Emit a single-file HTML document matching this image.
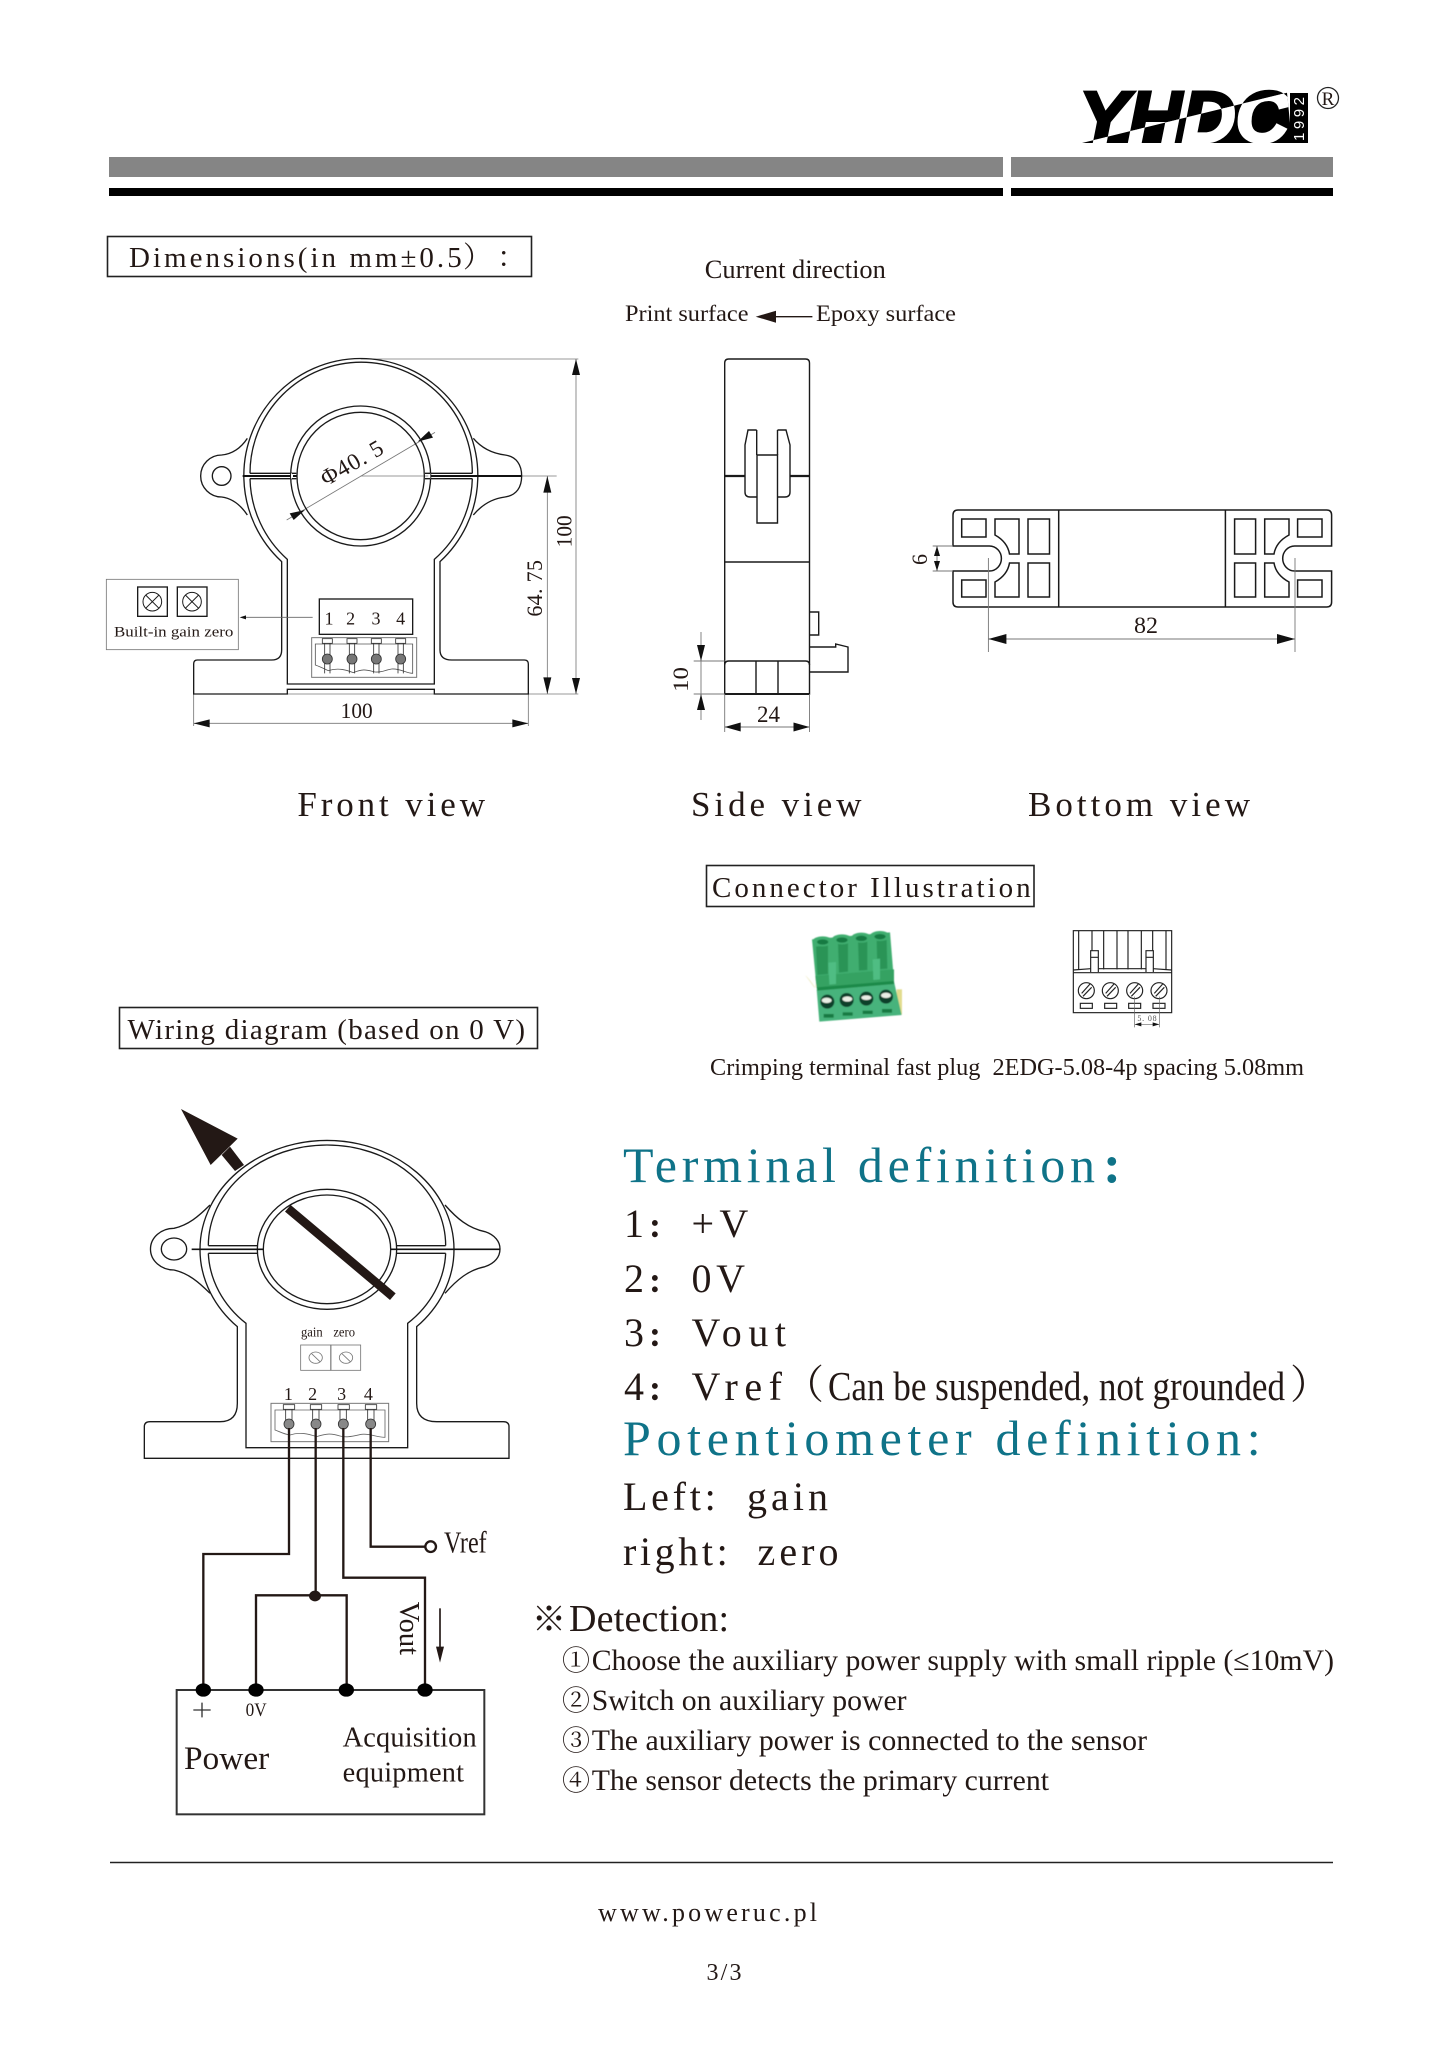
<!DOCTYPE html>
<html><head><meta charset="utf-8"><style>
html,body{margin:0;padding:0;background:#fff}
svg{display:block}
text{font-family:"Liberation Serif","Noto Serif CJK SC",serif;fill:#231815}
.l{fill:none;stroke:#1a1a1a;stroke-width:4}
.t{fill:none;stroke:#1a1a1a;stroke-width:3}
.g{fill:none;stroke:#777;stroke-width:2.5}
.a{fill:#111;stroke:none}
.teal{fill:#0f7388}
</style></head><body>
<svg width="1447" height="2048" viewBox="0 0 1447 2048" xmlns="http://www.w3.org/2000/svg">
<rect width="1447" height="2048" fill="#fff"/>
<!-- header -->
<rect x="109" y="157" width="894" height="20" fill="#858585"/>
<rect x="1011" y="157" width="322" height="20" fill="#858585"/>
<rect x="109" y="188" width="894" height="8" fill="#000"/>
<rect x="1011" y="188" width="322" height="8" fill="#000"/>
<!-- logo -->
<defs>
<clipPath id="up"><polygon points="1070,88 1292,88 1287,92.7 1082,143 1070,143"/></clipPath>
<clipPath id="dn"><polygon points="1082,143 1287,92.7 1292,143"/></clipPath>
</defs>
<g clip-path="url(#up)"><text x="1079" y="142" font-size="72" textLength="210" lengthAdjust="spacingAndGlyphs" style="font-family:'Liberation Sans',sans-serif;font-weight:bold;font-style:italic;fill:#000;stroke:#000;stroke-width:3">YHDC</text></g>
<polygon points="1082,143 1287,92.7 1292,143" fill="#000"/>
<g clip-path="url(#dn)"><text x="1079" y="142" font-size="72" textLength="210" lengthAdjust="spacingAndGlyphs" style="font-family:'Liberation Sans',sans-serif;font-weight:bold;font-style:italic;fill:#fff;stroke:#fff;stroke-width:3">YHDC</text></g>
<rect x="1290" y="93" width="18" height="50" fill="#000"/>
<text transform="translate(1304,141) rotate(-90)" font-size="15" textLength="44" style="font-family:'Liberation Sans',sans-serif;fill:#fff">1992</text>
<circle cx="1328" cy="98" r="10.5" fill="none" stroke="#222" stroke-width="1.3"/>
<text x="1328" y="105" font-size="19" text-anchor="middle">R</text>

<!-- title boxes -->
<rect x="107.5" y="236.5" width="424" height="40" fill="none" stroke="#222" stroke-width="1.6"/>
<text x="129" y="267" font-size="29" textLength="332.7" lengthAdjust="spacing">Dimensions(in mm±0.5</text>
<text x="463" y="267" font-size="29">）</text>
<text x="497" y="267" font-size="29">：</text>
<text x="704.8" y="278" font-size="26" textLength="181" lengthAdjust="spacingAndGlyphs">Current direction</text>
<text x="625" y="321" font-size="23" textLength="123.5" lengthAdjust="spacingAndGlyphs">Print surface</text>
<text x="816" y="321" font-size="23" textLength="140" lengthAdjust="spacingAndGlyphs">Epoxy surface</text>
<polygon points="755.7,316.7 776,310.7 776,322.7" fill="#231815"/>
<line x1="774" y1="316.7" x2="812.4" y2="316.7" stroke="#231815" stroke-width="1.4"/>

<!-- FRONT VIEW -->
<g transform="translate(90,340) scale(.33333)">
<g class="g">
<line x1="812" y1="57" x2="1465" y2="57"/>
<line x1="311" y1="1062" x2="1465" y2="1062"/>
<line x1="1458" y1="57" x2="1458" y2="1062"/>
<line x1="1372" y1="408" x2="1372" y2="1062"/>
<line x1="812" y1="408" x2="1400" y2="408"/>
<line x1="311" y1="1062" x2="311" y2="1158"/>
<line x1="1315" y1="1062" x2="1315" y2="1158"/>
<line x1="311" y1="1150" x2="1315" y2="1150"/>
<line x1="590" y1="540" x2="1035" y2="277"/>
</g>
<polygon class="a" points="1458,57 1446,105 1470,105"/>
<polygon class="a" points="1458,1062 1446,1014 1470,1014"/>
<polygon class="a" points="1372,408 1360,458 1384,458"/>
<polygon class="a" points="1372,1062 1360,1012 1384,1012"/>
<polygon class="a" points="311,1150 359,1138 359,1162"/>
<polygon class="a" points="1315,1150 1267,1138 1267,1162"/>
<polygon class="a" points="645,510 611,540 599,520"/>
<polygon class="a" points="983,305 1017,273 1029,293"/>
<!-- body -->
<path class="l" d="M575 665A351 351 0 1 1 1050 665V930Q1050 960 1085 960H1303Q1315 960 1315 972V1062H1033V1048H592V1062H311V972Q311 960 322 960H545Q575 960 575 930Z"/>
<path class="l" d="M480 400A333 333 0 0 1 1147 400M480 416A333 333 0 0 0 592 658V1032H1033V658A333 333 0 0 0 1147 416"/>
<path class="l" d="M480 400H606M480 416H606M1020 400H1147M1020 416H1147"/>
<circle class="l" cx="812" cy="408" r="210"/>
<circle class="l" cx="812" cy="408" r="191"/>
<path d="M458 408H620M1020 408H1295" stroke="#111" stroke-width="6" fill="none"/>
<path d="M606 400V416M1018 400V416" stroke="#fff" stroke-width="6" fill="none"/>
<path class="l" d="M606 400H619M606 416H619M1005 400H1020M1005 416H1020"/>
<!-- ears -->
<path class="l" d="M472 295C452 325 425 342 395 345A63 63 0 1 0 395 471C425 475 452 495 472 525"/>
<circle class="l" cx="395" cy="408" r="28"/>
<path class="l" d="M1150 295C1175 325 1205 340 1245 345C1280 350 1295 375 1295 408C1295 441 1280 466 1245 471C1205 476 1175 495 1150 525"/>
<!-- built-in -->
<rect class="g" x="49" y="718" width="396" height="211"/>
<rect class="l" x="143" y="741" width="89" height="88"/>
<rect class="l" x="262" y="741" width="89" height="88"/>
<circle class="t" cx="187" cy="785" r="28"/><path class="t" d="M167 765L207 805M207 765L167 805"/>
<circle class="t" cx="306" cy="785" r="28"/><path class="t" d="M286 765L326 805M326 765L286 805"/>
<text x="72" y="890" font-size="45" textLength="358" lengthAdjust="spacingAndGlyphs">Built-in gain zero</text>
<line x1="668" y1="832" x2="455" y2="832" stroke="#666" stroke-width="2.5"/>
<polygon class="a" points="449,832 468,826 468,838"/>
<rect class="l" x="688" y="777" width="280" height="106"/>
<text x="717" y="853" font-size="54" text-anchor="middle">1</text>
<text x="782" y="853" font-size="54" text-anchor="middle">2</text>
<text x="858" y="853" font-size="54" text-anchor="middle">3</text>
<text x="932" y="853" font-size="54" text-anchor="middle">4</text>
<rect x="665" y="893" width="315" height="119" fill="none" stroke="#777" stroke-width="3"/>
<path d="M676 912H968V1000C950 1000 930 985 905 987C885 990 875 998 855 996C830 990 820 985 790 998C770 990 745 982 715 992C700 985 690 980 676 975Z" fill="none" stroke="#555" stroke-width="2.5"/>
<g fill="#777" stroke="#333" stroke-width="2.5">
<rect x="697" y="896" width="30" height="14" fill="#fff"/><rect x="771" y="896" width="30" height="14" fill="#fff"/><rect x="844" y="896" width="30" height="14" fill="#fff"/><rect x="917" y="896" width="30" height="14" fill="#fff"/>
<path fill="none" d="M704 910V1000M720 910V1000M778 910V1000M794 910V1000M851 910V1000M867 910V1000M924 910V1000M940 910V1000"/>
<circle cx="712" cy="957" r="15"/><circle cx="786" cy="957" r="15"/><circle cx="859" cy="957" r="15"/><circle cx="932" cy="957" r="15"/>
</g>
<text x="752" y="1134" font-size="66" textLength="96" lengthAdjust="spacingAndGlyphs">100</text>
<text transform="translate(1444,622) rotate(-90)" font-size="66" textLength="96" lengthAdjust="spacingAndGlyphs">100</text>
<text transform="translate(1356,830) rotate(-90)" font-size="66" textLength="170" lengthAdjust="spacing">64. 75</text>
<text transform="translate(708,440) rotate(-30)" font-size="70" textLength="205" lengthAdjust="spacing">Φ40. 5</text>
</g>

<!-- SIDE VIEW -->
<g fill="none" stroke="#1a1a1a" stroke-width="1.4">
<path d="M724.7 694V363Q724.7 359 728.7 359H805.5Q809.5 359 809.5 363V694Z"/>
<path d="M724.7 476H745M790 476H809.5" stroke-width="2.2"/>
<line x1="724.7" y1="562" x2="809.5" y2="562"/>
<path d="M756.7 430H748L745 445V492Q745 497 750 497H756.7"/>
<path d="M777.5 430H786L790 445V492Q790 497 785 497H777.5"/>
<path d="M756.7 430V455M777.5 430V455"/>
<path d="M757 523V455H777.5V523Z"/>
<path d="M724.7 665Q724.7 661 728.7 661H805.5Q809.5 661 809.5 665"/>
<path d="M756 661V694M778 661V694"/>
<path d="M724.7 694H809.5" stroke-width="2"/>
<path d="M809.5 612H818.7V635H809.5"/>
<path d="M809.5 647H835.7V644L848 647V672H809.5"/>
</g>
<g stroke="#777" stroke-width=".9" fill="none">
<path d="M701 632V720M693.7 661H724.7M693.7 694H724.7"/>
<path d="M724.7 694V732M809.5 694V732M724.7 727H809.5"/>
</g>
<polygon class="a" points="701,661 697,645 705,645"/>
<polygon class="a" points="701,694 697,710 705,710"/>
<polygon class="a" points="724.7,727 740.7,722.5 740.7,731.5"/>
<polygon class="a" points="809.5,727 793.5,722.5 793.5,731.5"/>
<text transform="translate(688,692) rotate(-90)" font-size="22" textLength="25" lengthAdjust="spacingAndGlyphs">10</text>
<text x="757" y="722" font-size="23" textLength="23" lengthAdjust="spacingAndGlyphs">24</text>

<!-- BOTTOM VIEW -->
<g fill="none" stroke="#1a1a1a" stroke-width="1.5">
<path d="M953 546V515Q953 510 958 510H1326.6Q1331.6 510 1331.6 515V546H1294.7A12 12.5 0 0 0 1294.7 571H1331.6V602Q1331.6 607 1326.6 607H958Q953 607 953 602V571H989.4A12 12.5 0 0 0 989.4 546Z"/>
<path d="M1058.7 510V607M1225.4 510V607"/>
<rect x="961.7" y="519" width="24.3" height="18"/><rect x="961.7" y="580" width="24.3" height="17"/>
<path d="M995 519H1019V554H1009.5Q1007.5 542 995 535Z"/>
<path d="M995 597H1019V563H1009.5Q1007.5 575 995 582Z"/>
<rect x="1028" y="519" width="21.5" height="35"/><rect x="1028" y="563" width="21.5" height="34"/>
<rect x="1234.6" y="519" width="21" height="35"/><rect x="1234.6" y="563" width="21" height="34"/>
<path d="M1289 519H1264.7V554H1274Q1276 542 1289 535Z"/>
<path d="M1289 597H1264.7V563H1274Q1276 575 1289 582Z"/>
<rect x="1297.6" y="519" width="24.4" height="18"/><rect x="1297.6" y="580" width="24.4" height="17"/>
</g>
<g stroke="#777" stroke-width=".9" fill="none">
<path d="M932.7 546H953M932.7 571H953M937 546V571"/>
<path d="M988.4 558V652M1295 558V652M988.4 639H1295"/>
</g>
<polygon class="a" points="937,546 934,556 940,556"/><polygon class="a" points="937,571 934,561 940,561"/>
<polygon class="a" points="988.4,639 1006.4,634 1006.4,644"/><polygon class="a" points="1295,639 1277,634 1277,644"/>
<text transform="translate(927,565) rotate(-90)" font-size="22">6</text>
<text x="1134" y="633" font-size="23" textLength="24" lengthAdjust="spacingAndGlyphs">82</text>

<!-- view labels -->
<text x="297.4" y="816" font-size="35" textLength="187.6" lengthAdjust="spacing">Front view</text>
<text x="691" y="816" font-size="35" textLength="170.5" lengthAdjust="spacing">Side view</text>
<text x="1028" y="816" font-size="35" textLength="222" lengthAdjust="spacing">Bottom view</text>

<rect x="706.5" y="865.5" width="327.5" height="41" fill="none" stroke="#222" stroke-width="1.6"/>
<text x="712" y="897" font-size="29" textLength="318.6" lengthAdjust="spacing">Connector Illustration</text>
<rect x="119.5" y="1007.5" width="418" height="41" fill="none" stroke="#222" stroke-width="1.6"/>
<text x="127.5" y="1039" font-size="29" textLength="397.5" lengthAdjust="spacing">Wiring diagram (based on 0 V)</text>
<text x="710" y="1075" font-size="24" textLength="594" lengthAdjust="spacingAndGlyphs" xml:space="preserve">Crimping terminal fast plug  2EDG-5.08-4p spacing 5.08mm</text>

<!-- connector photo -->
<g transform="translate(690,900) scale(.33333)">
<defs>
<filter id="b" x="-10%" y="-10%" width="120%" height="120%"><feGaussianBlur stdDeviation="1.6"/></filter>
</defs>
<g filter="url(#b)">
<path d="M345 225Q358 235 375 262L378 250V262H372Z" fill="#f0eecb"/>
<rect x="620" y="268" width="16" height="75" fill="#e2dc8e"/>
<polygon points="366,118 600,97 612,243 380,265" fill="#3fae70"/>
<polygon points="380,268 612,245 635,345 388,365" fill="#47b37b"/>
<polygon points="380,260 612,240 612,252 382,272" fill="#1d8a4a"/>
<polygon points="376,228 612,208 612,243 380,262" fill="#35a262"/>
<g fill="#2a9457">
<polygon points="378,140 414,135 414,222 382,225"/><polygon points="444,132 474,128 474,215 447,218"/><polygon points="504,126 532,124 532,210 507,212"/><polygon points="560,122 590,120 592,206 562,208"/>
</g>
<g fill="#4fbd83">
<polygon points="415,188 438,186 438,252 418,254"/><polygon points="548,178 570,176 570,238 550,240"/>
</g>
<g fill="#3fae70">
<ellipse cx="398" cy="124" rx="30" ry="15"/><ellipse cx="456" cy="118" rx="30" ry="15"/><ellipse cx="514" cy="113" rx="30" ry="15"/><ellipse cx="570" cy="108" rx="30" ry="15"/>
</g>
<g fill="#157a43">
<ellipse cx="398" cy="126" rx="17" ry="8"/><ellipse cx="456" cy="120" rx="17" ry="8"/><ellipse cx="514" cy="115" rx="17" ry="8"/><ellipse cx="570" cy="110" rx="17" ry="8"/>
<rect x="401" y="342" width="30" height="11"/><rect x="458" y="337" width="30" height="10"/><rect x="518" y="332" width="30" height="10"/><rect x="576" y="327" width="30" height="11"/>
</g>
<g fill="#0d3f2a">
<circle cx="412" cy="305" r="21"/><circle cx="470" cy="300" r="21"/><circle cx="529" cy="296" r="21"/><circle cx="588" cy="290" r="21"/>
</g>
<g fill="#e8eee4">
<ellipse cx="410" cy="301" rx="15" ry="8"/><ellipse cx="472" cy="297" rx="15" ry="8"/><ellipse cx="529" cy="293" rx="15" ry="7"/><ellipse cx="588" cy="286" rx="15" ry="8"/>
</g>
</g>
</g>

<!-- connector drawing -->
<g transform="translate(780,910) scale(.33333)" fill="none" stroke="#222" stroke-width="3.5">
<rect x="880" y="62" width="295" height="246"/>
<path d="M896 62V178M936 62V122M971 62V178M1011 62V178M1044 62V178M1084 62V178M1118 62V122M1158 62V178"/>
<path d="M880 180L932 176M956 176H1098M1120 176L1175 180M880 188H1175"/>
<path d="M932 186V142H955V186M932 142V122H955V142M1098 186V142H1120V186M1098 142V122H1120V142"/>
<g stroke-width="3.5">
<circle cx="919" cy="242" r="24"/><path d="M905 250L930 222M909 259L935 232"/>
<circle cx="991" cy="242" r="24"/><path d="M977 250L1002 222M981 259L1007 232"/>
<circle cx="1064" cy="242" r="24"/><path d="M1050 250L1075 222M1054 259L1080 232"/>
<circle cx="1137" cy="242" r="24"/><path d="M1123 250L1148 222M1127 259L1153 232"/>
</g>
<rect x="901" y="280" width="36" height="15"/><rect x="974" y="280" width="36" height="15"/><rect x="1046" y="280" width="36" height="15"/><rect x="1119" y="280" width="36" height="15"/>
<path d="M1064 260V352M1138 260V352M1064 343H1138" stroke="#666" stroke-width="2"/>
<polygon points="1064,343 1084,337 1084,349" fill="#111" stroke="none"/>
<polygon points="1138,343 1118,337 1118,349" fill="#111" stroke="none"/>
<text x="1072" y="333" font-size="24" textLength="58" stroke="none" style="fill:#555">5. 08</text>
</g>

<!-- WIRING sensor -->
<g transform="translate(120,1100) scale(.33333)">
<path class="l" d="M352 680A381 327 0 1 1 890 680V910Q890 965 950 965H1150Q1167 965 1167 980V1075H73V980Q73 965 90 965H300Q352 965 352 910Z"/>
<path class="l" d="M265 437A356 302 0 0 1 977 437M265 460A356 302 0 0 0 378 670V1043H863V670A356 302 0 0 0 977 460"/>
<path class="l" d="M265 437H412M265 460H412M830 437H977M830 460H977"/>
<ellipse class="l" cx="621" cy="448" rx="209" ry="180"/>
<ellipse class="l" cx="621" cy="448" rx="191" ry="163"/>
<path d="M215 448H430M812 448H1140" stroke="#111" stroke-width="5" fill="none"/>
<path class="l" d="M270 315C235 350 205 375 162 385A70 62 0 1 0 162 510C205 520 235 545 270 580"/>
<ellipse class="l" cx="162" cy="447" rx="38" ry="33"/>
<path class="l" d="M975 315C1010 355 1045 385 1095 395C1125 405 1140 425 1140 447C1140 470 1125 490 1095 500C1045 510 1010 540 975 580"/>
<polygon points="183,27 353,116 272,195" fill="#231815"/>
<polygon points="305,165 330,140 372,195 345,213" fill="#231815"/>
<polygon points="495,335 512,315 827,580 810,600" fill="#231815"/>
<text x="543" y="710" font-size="40" textLength="65" lengthAdjust="spacingAndGlyphs">gain</text>
<text x="640" y="710" font-size="40" textLength="65" lengthAdjust="spacingAndGlyphs">zero</text>
<rect class="g" x="542" y="735" width="90" height="76"/>
<rect class="g" x="633" y="735" width="89" height="76"/>
<ellipse class="g" cx="587" cy="773" rx="20" ry="17"/><path class="g" d="M575 761L600 785"/>
<ellipse class="g" cx="678" cy="773" rx="20" ry="17"/><path class="g" d="M666 761L691 785"/>
<text x="505" y="900" font-size="54" text-anchor="middle">1</text>
<text x="578" y="900" font-size="54" text-anchor="middle">2</text>
<text x="665" y="900" font-size="54" text-anchor="middle">3</text>
<text x="745" y="900" font-size="54" text-anchor="middle">4</text>
<rect x="453" y="910" width="353" height="115" fill="none" stroke="#777" stroke-width="3"/>
<path d="M465 930H795V1012C770 1012 750 1000 725 1003C700 1008 680 1014 660 1008C635 1000 620 1000 590 1010C565 1002 540 995 510 1005C490 1002 480 995 465 990Z" fill="none" stroke="#666" stroke-width="2.5"/>
<g stroke="#333" stroke-width="2.5" fill="#fff">
<rect x="490" y="914" width="34" height="14"/><rect x="571" y="914" width="34" height="14"/><rect x="654" y="914" width="34" height="14"/><rect x="736" y="914" width="34" height="14"/>
<path fill="none" d="M497 928V965M516 928V965M578 928V965M597 928V965M660 928V965M679 928V965M743 928V965M762 928V965"/>
<circle cx="507" cy="972" r="15" fill="#888"/><circle cx="588" cy="972" r="15" fill="#888"/><circle cx="670" cy="972" r="15" fill="#888"/><circle cx="752" cy="972" r="15" fill="#888"/>
</g>
</g>

<!-- wiring -->
<g transform="translate(140,1480) scale(.33333)">
<g fill="none" stroke="#231815" stroke-width="7">
<path d="M447 -156V222H190V630"/>
<path d="M527 -156V347M348 630V346H620V630"/>
<path d="M610 -156V293H855V630"/>
<path d="M692 -156V200H855"/>
</g>
<circle cx="872" cy="200" r="16" fill="#fff" stroke="#231815" stroke-width="7"/>
<rect x="110" y="630" width="923" height="373" fill="none" stroke="#333" stroke-width="6"/>
<ellipse cx="525" cy="348" rx="18" ry="16" fill="#231815"/>
<g fill="#000"><ellipse cx="190" cy="630" rx="23" ry="20"/><ellipse cx="348" cy="630" rx="23" ry="20"/><ellipse cx="619" cy="630" rx="23" ry="20"/><ellipse cx="855" cy="630" rx="23" ry="20"/></g>
<text x="912" y="217" font-size="92" textLength="128" lengthAdjust="spacingAndGlyphs">Vref</text>
<text transform="translate(780,365) rotate(90)" font-size="84" textLength="160" lengthAdjust="spacingAndGlyphs">Vout</text>
<line x1="900" y1="385" x2="900" y2="510" stroke="#231815" stroke-width="5"/>
<polygon points="900,548 888,500 912,500" fill="#231815"/>
<path d="M186 668V712M160 690H212" stroke="#333" stroke-width="4"/>
<text x="317" y="708" font-size="58" textLength="63" lengthAdjust="spacingAndGlyphs">0V</text>
<text x="132" y="867" font-size="98" textLength="256" lengthAdjust="spacingAndGlyphs">Power</text>
<text x="608" y="800" font-size="85" textLength="402" lengthAdjust="spacing">Acquisition</text>
<text x="608" y="905" font-size="85" textLength="364" lengthAdjust="spacing">equipment</text>
</g>

<!-- Terminal definitions -->
<text class="teal" x="623" y="1182" font-size="50" textLength="472" lengthAdjust="spacing">Terminal definition</text>
<text class="teal" x="1103" y="1182" font-size="54" style="font-weight:bold">:</text>
<text x="624" y="1237" font-size="40">1</text><text x="649" y="1237" font-size="36" style="font-weight:bold">:</text>
<text x="691.5" y="1237" font-size="40" textLength="56.8" lengthAdjust="spacing">+V</text>
<text x="624" y="1292" font-size="40">2</text><text x="649" y="1292" font-size="36" style="font-weight:bold">:</text>
<text x="691.5" y="1292" font-size="40" textLength="53.5" lengthAdjust="spacing">0V</text>
<text x="624" y="1346" font-size="40">3</text><text x="649" y="1346" font-size="36" style="font-weight:bold">:</text>
<text x="691.5" y="1346" font-size="40" textLength="94.5" lengthAdjust="spacing">Vout</text>
<text x="624" y="1400" font-size="40">4</text><text x="649" y="1400" font-size="36" style="font-weight:bold">:</text>
<text x="691.5" y="1400" font-size="40" textLength="90.5" lengthAdjust="spacing">Vref</text>
<text x="784" y="1398" font-size="40">（</text>
<text x="828" y="1400" font-size="41" textLength="457" lengthAdjust="spacingAndGlyphs">Can be suspended, not grounded</text>
<text x="1290" y="1398" font-size="40">）</text>

<text class="teal" x="623" y="1455" font-size="50" textLength="637.6" lengthAdjust="spacing">Potentiometer definition:</text>
<text x="623" y="1510" font-size="40" textLength="92.7" lengthAdjust="spacing">Left:</text>
<text x="747" y="1510" font-size="40" textLength="81" lengthAdjust="spacing">gain</text>
<text x="623" y="1565" font-size="40" textLength="104.7" lengthAdjust="spacing">right:</text>
<text x="757.5" y="1565" font-size="40" textLength="81" lengthAdjust="spacing">zero</text>

<text x="532" y="1631" font-size="34" style="font-family:'Noto Sans CJK SC',sans-serif;font-weight:300">※</text>
<text x="569" y="1631" font-size="38" textLength="160" lengthAdjust="spacing">Detection:</text>
<text x="562" y="1670" font-size="28" style="font-family:'Noto Serif CJK SC',serif">①</text>
<text x="591.7" y="1670" font-size="30" textLength="742.3" lengthAdjust="spacingAndGlyphs">Choose the auxiliary power supply with small ripple (≤10mV)</text>
<text x="562" y="1710" font-size="28" style="font-family:'Noto Serif CJK SC',serif">②</text>
<text x="591.7" y="1710" font-size="30" textLength="314.9" lengthAdjust="spacingAndGlyphs">Switch on auxiliary power</text>
<text x="562" y="1750" font-size="28" style="font-family:'Noto Serif CJK SC',serif">③</text>
<text x="591.7" y="1750" font-size="30" textLength="555.3" lengthAdjust="spacingAndGlyphs">The auxiliary power is connected to the sensor</text>
<text x="562" y="1790" font-size="28" style="font-family:'Noto Serif CJK SC',serif">④</text>
<text x="591.7" y="1790" font-size="30" textLength="457.3" lengthAdjust="spacingAndGlyphs">The sensor detects the primary current</text>

<!-- footer -->
<line x1="110" y1="1862.5" x2="1333" y2="1862.5" stroke="#222" stroke-width="1.4"/>
<text x="598" y="1921" font-size="26" textLength="219" lengthAdjust="spacing">www.poweruc.pl</text>
<text x="706.5" y="1980" font-size="24" textLength="35" lengthAdjust="spacing">3/3</text>
</svg>
</body></html>
